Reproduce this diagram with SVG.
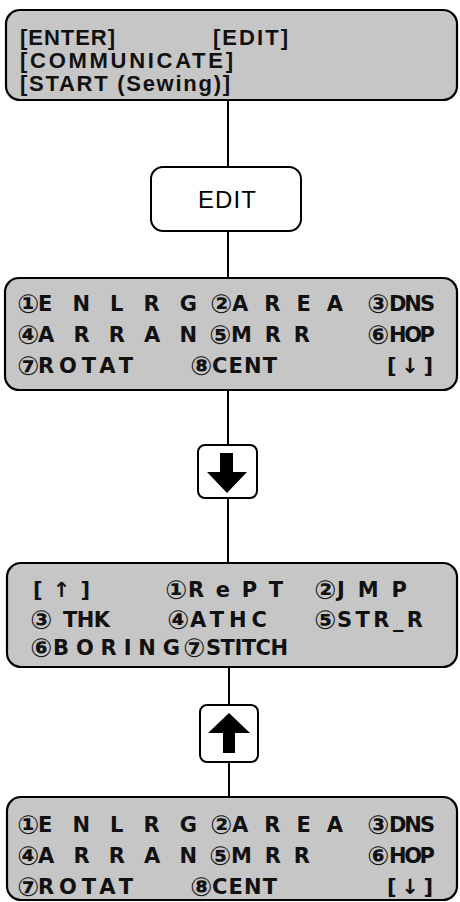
<svg xmlns="http://www.w3.org/2000/svg" width="460" height="902" viewBox="0 0 460 902">
<style>
.scr{fill:#c6c6c6;stroke:#000;stroke-width:2.2}
.key{fill:#fff;stroke:#000;stroke-width:2}
.t{font-family:"Liberation Sans","DejaVu Sans",sans-serif;font-weight:bold;fill:#111}
.t1{font-size:22px}
.w{font-family:"DejaVu Sans","Liberation Sans",sans-serif;font-weight:bold;font-size:21px;fill:#111}
.n{font-family:"DejaVu Sans",sans-serif;font-weight:bold;font-size:26px;fill:#111}
.e{font-family:"Liberation Sans","DejaVu Sans",sans-serif;font-size:24px;fill:#000}
.c{stroke:#000;stroke-width:2;fill:none}
</style>
<rect width="460" height="902" fill="#fff"/>
<g id="connectors">
<line class="c" x1="228" y1="100" x2="228" y2="167"/>
<line class="c" x1="228" y1="231" x2="228" y2="278"/>
<line class="c" x1="228" y1="390" x2="228" y2="445"/>
<line class="c" x1="228" y1="498" x2="228" y2="563"/>
<line class="c" x1="229" y1="667" x2="229" y2="705"/>
<line class="c" x1="229" y1="762" x2="229" y2="797"/>
</g>
<g id="screen-main">
<rect class="scr" x="6" y="10" width="451" height="90" rx="14"/>
<text class="t t1" x="20" y="45" textLength="95">[ENTER]</text>
<text class="t t1" x="213" y="45" textLength="75">[EDIT]</text>
<text class="t t1" x="20" y="68" textLength="213">[COMMUNICATE]</text>
<text class="t t1" x="20" y="91" textLength="210">[START (Sewing)]</text>
</g>
<g id="key-edit">
<rect class="key" x="151" y="167" width="150" height="64" rx="12"/>
<text class="e" x="198" y="208" textLength="58">EDIT</text>
</g>
<g id="screen-edit-1">
<rect class="scr" x="5" y="278" width="452" height="112" rx="14"/>
<text class="n" x="17" y="313">①</text><text class="w" x="38" y="311" textLength="159">ENLRG</text>
<text class="n" x="210" y="313">②</text><text class="w" x="232" y="311" textLength="111">AREA</text>
<text class="n" x="367" y="313">③</text><text class="w" x="389" y="311" textLength="46">DNS</text>
<text class="n" x="17" y="344">④</text><text class="w" x="38" y="342" textLength="159">ARRAN</text>
<text class="n" x="209" y="344">⑤</text><text class="w" x="231" y="342" textLength="79">MRR</text>
<text class="n" x="367" y="344">⑥</text><text class="w" x="389" y="342" textLength="46">HOP</text>
<text class="n" x="17" y="375">⑦</text><text class="w" x="38" y="373" textLength="95">ROTAT</text>
<text class="n" x="190" y="375">⑧</text><text class="w" x="212" y="373" textLength="65">CENT</text>
<text class="w" x="387" y="373" textLength="46">[↓]</text>
</g>
<g id="key-down">
<rect class="key" x="198" y="445" width="59" height="53" rx="7"/>
<polygon points="220,453 233,453 233,472 247,472 227,493 207,472 220,472" fill="#000"/>
</g>
<g id="screen-edit-2">
<rect class="scr" x="7" y="563" width="450" height="104" rx="14"/>
<text class="w" x="33" y="597" textLength="57">[ ↑ ]</text>
<text class="n" x="165" y="599">①</text><text class="w" x="188" y="597" textLength="95">RePT</text>
<text class="n" x="314" y="599">②</text><text class="w" x="337" y="597" textLength="70">JMP</text>
<text class="n" x="30" y="629">③</text><text class="w" x="63" y="627" textLength="47">THK</text>
<text class="n" x="167" y="629">④</text><text class="w" x="190" y="627" textLength="77">ATHC</text>
<text class="n" x="314" y="629">⑤</text><text class="w" x="337" y="627" textLength="86">STR_R</text>
<text class="n" x="30" y="657">⑥</text><text class="w" x="53" y="655" textLength="127">BORING</text>
<text class="n" x="183" y="657">⑦</text><text class="w" x="206" y="655" textLength="82">STITCH</text>
</g>
<g id="key-up">
<rect class="key" x="200" y="705" width="58" height="57" rx="7"/>
<polygon points="229,713 250,733 235,733 235,753 223,753 223,733 208,733" fill="#000"/>
</g>
<g id="screen-edit-3">
<rect class="scr" x="7" y="797" width="450" height="103" rx="14"/>
<text class="n" x="17" y="834">①</text><text class="w" x="38" y="832" textLength="159">ENLRG</text>
<text class="n" x="210" y="834">②</text><text class="w" x="232" y="832" textLength="111">AREA</text>
<text class="n" x="367" y="834">③</text><text class="w" x="389" y="832" textLength="46">DNS</text>
<text class="n" x="17" y="865">④</text><text class="w" x="38" y="863" textLength="159">ARRAN</text>
<text class="n" x="209" y="865">⑤</text><text class="w" x="231" y="863" textLength="79">MRR</text>
<text class="n" x="367" y="865">⑥</text><text class="w" x="389" y="863" textLength="46">HOP</text>
<text class="n" x="17" y="896">⑦</text><text class="w" x="38" y="894" textLength="95">ROTAT</text>
<text class="n" x="190" y="896">⑧</text><text class="w" x="212" y="894" textLength="65">CENT</text>
<text class="w" x="387" y="894" textLength="46">[↓]</text>
</g>
</svg>
